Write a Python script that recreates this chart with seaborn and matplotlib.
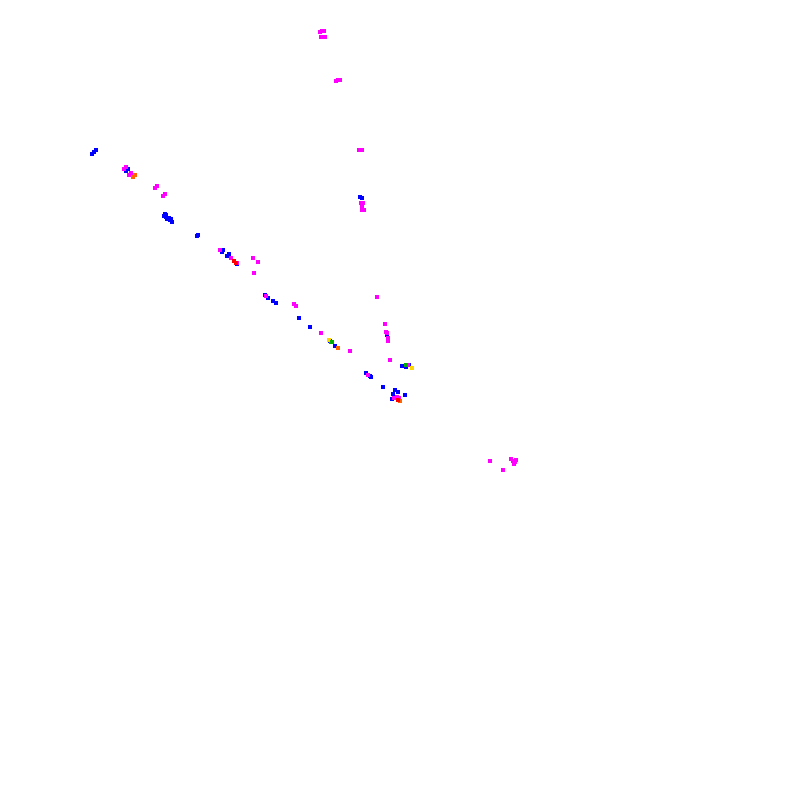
import matplotlib
matplotlib.use("Agg")
import matplotlib.pyplot as plt
import seaborn as sns
import pandas as pd

# Point positions (x, y) per colour group
blue_x = [92, 94, 96, 126, 128, 164, 166, 168, 170, 172, 166, 169, 171, 165, 167, 197, 198, 222, 223, 227, 229, 237,
          265, 268, 273, 276, 299, 310, 330, 335, 366, 370, 371, 387, 402, 406, 409, 383, 395, 398,
          393, 405, 392, 360, 362]
blue_y = [154, 152, 150, 171, 169, 216, 217, 219, 220, 222, 215, 218, 219, 214, 219, 236, 235, 252, 250, 256, 254, 264,
          295, 298, 301, 303, 318, 327, 341, 346, 373, 376, 377, 335, 366, 367, 365, 387, 390, 392,
          394, 395, 399, 197, 198]

magenta_x = [124, 126, 129, 131, 155, 157, 163, 165, 220, 231, 237, 253, 258, 254, 266, 294, 296, 321,
             331, 350, 368, 377, 385, 386, 387, 388, 388, 390, 408, 394, 397, 399,
             320, 322, 324, 321, 323, 325, 336, 338, 340, 359, 361, 362, 361, 363, 362, 362, 364,
             490, 503, 511, 513, 515, 514, 516]
magenta_y = [169, 167, 175, 173, 188, 186, 196, 194, 250, 258, 263, 258, 262, 273, 296, 304, 306, 333,
             342, 351, 375, 297, 324, 332, 333, 338, 341, 360, 365, 398, 397, 398,
             32, 31, 31, 37, 37, 37, 81, 80, 80, 150, 150, 150, 203, 203, 207, 210, 210,
             461, 470, 459, 461, 462, 464, 460]

orange_x = [133, 135, 338, 400]
orange_y = [177, 175, 348, 401]

red_x = [234, 236, 398]
red_y = [261, 263, 400]

yellow_x = [329, 412]
yellow_y = [340, 368]

green_x = [332, 406]
green_y = [342, 365]

groups = {
    "blue": (blue_x, blue_y),
    "magenta": (magenta_x, magenta_y),
    "orange": (orange_x, orange_y),
    "red": (red_x, red_y),
    "yellow": (yellow_x, yellow_y),
    "green": (green_x, green_y),
}
palette = {"blue": "#0000ff", "magenta": "#ff00ff", "orange": "#ff6600",
           "red": "#ff0000", "yellow": "#ffd700", "green": "#00b000"}

rows = []
for g, (xs, ys) in groups.items():
    for x, y in zip(xs, ys):
        rows.append({"x": x, "y": y, "group": g})
df = pd.DataFrame(rows)

fig = plt.figure(figsize=(8, 8), dpi=100)
ax = fig.add_axes([0, 0, 1, 1])
sns.scatterplot(data=df, x="x", y="y", hue="group", palette=palette, marker="s",
                s=5, linewidth=0, legend=False, ax=ax)
ax.set_xlim(0, 800)
ax.set_ylim(800, 0)
ax.axis("off")
fig.savefig("out.png", dpi=100, facecolor="white")
